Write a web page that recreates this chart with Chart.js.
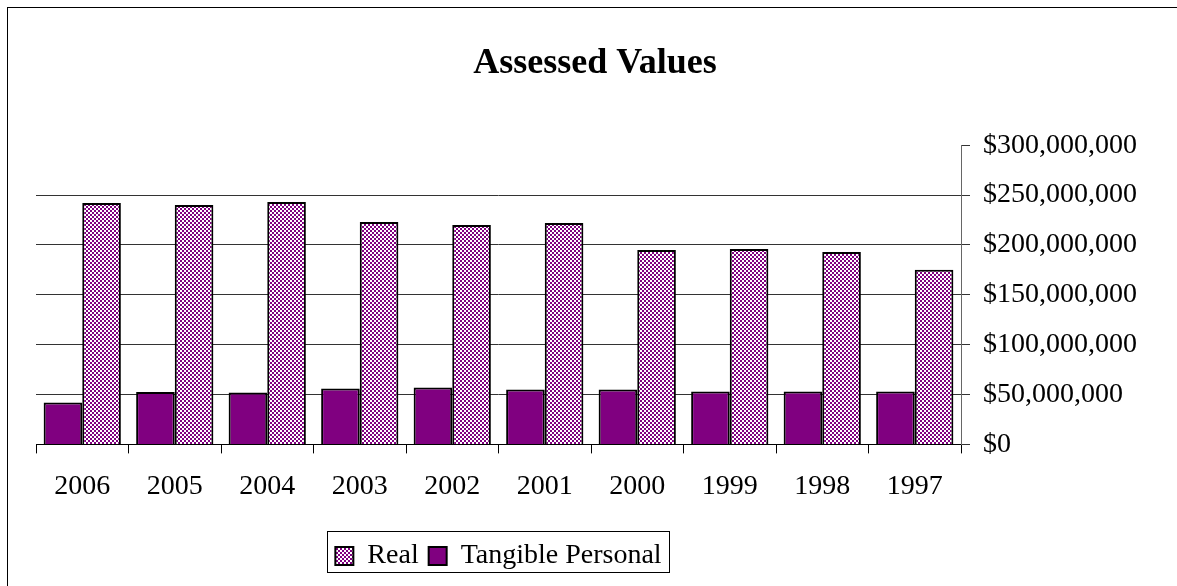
<!DOCTYPE html>
<html>
<head>
<meta charset="utf-8">
<script src="https://cdn.jsdelivr.net/npm/chart.js@4"></script>
<style>
  html, body { margin: 0; padding: 0; background: #fff; overflow: hidden; }
  #frame { position: absolute; left: 7px; top: 7px; width: 1174px; height: 600px; border: 1px solid #000; }
</style>
</head>
<body>
<div id="frame"><canvas id="canvas" width="1146" height="600"></canvas></div>
<script>
// data
var years = ["2006","2005","2004","2003","2002","2001","2000","1999","1998","1997"];
var realValues = [242000000, 240000000, 243000000, 223000000, 220000000, 222000000, 195000000, 196000000, 193000000, 175000000];
var tangibleValues = [42000000, 52500000, 52000000, 56000000, 57000000, 55000000, 55000000, 53000000, 53000000, 53000000];
var yTicks = [0, 50000000, 100000000, 150000000, 200000000, 250000000, 300000000];

var purple = "#800080";
var serif = "'Liberation Serif', 'Times New Roman', serif";

// small checker board fill for the "Real" series
function checker() {
  var c = document.createElement("canvas");
  c.width = 4; c.height = 4;
  var g = c.getContext("2d");
  g.fillStyle = "#fff";
  g.fillRect(0, 0, 4, 4);
  g.fillStyle = purple;
  g.fillRect(0, 0, 2, 2);
  g.fillRect(2, 2, 2, 2);
  return g.createPattern(c, "repeat");
}

// frame round the legend
var legendBox = {
  id: "legendBox",
  afterDraw: function(chart) {
    var lg = chart.legend;
    if (!lg || !lg.legendHitBoxes.length) return;
    var hb = lg.legendHitBoxes;
    var l = hb[0].left, r = hb[0].left + hb[0].width, t = hb[0].top, b = hb[0].top + hb[0].height;
    hb.forEach(function(h) {
      l = Math.min(l, h.left); r = Math.max(r, h.left + h.width);
      t = Math.min(t, h.top); b = Math.max(b, h.top + h.height);
    });
    var ctx = chart.ctx;
    ctx.save();
    ctx.strokeStyle = "#000";
    ctx.lineWidth = 1;
    ctx.strokeRect(Math.round(l - 8) + 0.5, Math.round(t - 11) + 0.5, Math.round(r - l + 16), 41);
    ctx.restore();
  }
};

var ctx = document.getElementById("canvas").getContext("2d");
new Chart(ctx, {
  type: "bar",
  data: {
    labels: years,
    datasets: [
      {
        label: "Tangible Personal",
        data: tangibleValues,
        backgroundColor: purple,
        borderColor: "#000",
        borderWidth: 2
      },
      {
        label: "Real",
        data: realValues,
        backgroundColor: checker(),
        borderColor: "#000",
        borderWidth: 2
      }
    ]
  },
  options: {
    responsive: false,
    animation: false,
    events: [],
    layout: { padding: { left: 28, right: 0, top: 0, bottom: 28 } },
    datasets: { bar: { categoryPercentage: 0.835, barPercentage: 1 } },
    plugins: {
      title: {
        display: true,
        text: "Assessed Values",
        color: "#000",
        font: { family: serif, size: 36, weight: "bold" },
        padding: { top: 34, bottom: 60 }
      },
      legend: {
        position: "bottom",
        fullSize: false,
        reverse: true,
        labels: {
          color: "#000",
          font: { family: serif, size: 28 },
          boxWidth: 18,
          boxHeight: 18,
          padding: 10
        }
      },
      tooltip: { enabled: false }
    },
    scales: {
      x: {
        afterFit: function(scale) { scale.height += 13; },
        grid: { display: true, drawOnChartArea: false, drawTicks: true, tickLength: 9, color: "#000", offset: true },
        border: { display: true, color: "#000", width: 1 },
        ticks: { color: "#000", font: { family: serif, size: 28 }, padding: 16, maxRotation: 0 }
      },
      y: {
        position: "right",
        min: 0,
        max: 300000000,
        afterFit: function(scale) { scale.width = 193; },
        afterBuildTicks: function(scale) { scale.ticks = yTicks.map(function(v) { return { value: v }; }); },
        grid: {
          color: function(c) { return c.tick && c.tick.value === 300000000 ? "rgba(0,0,0,0)" : "#333"; },
          tickColor: "#333",
          tickLength: 9
        },
        border: { display: true, color: "#666", width: 1 },
        ticks: {
          color: "#000",
          font: { family: serif, size: 28 },
          padding: 13,
          callback: function(v) { return "$" + Number(v).toLocaleString("en-US"); }
        }
      }
    }
  },
  plugins: [legendBox]
});
</script>
</body>
</html>
